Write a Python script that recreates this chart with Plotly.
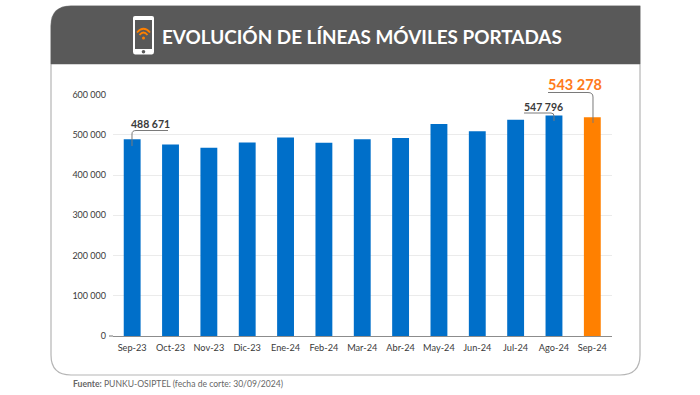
import plotly.graph_objects as go

categories = ["Sep-23","Oct-23","Nov-23","Dic-23","Ene-24","Feb-24","Mar-24","Abr-24","May-24","Jun-24","Jul-24","Ago-24","Sep-24"]
values = [488671,476000,468000,481000,493000,480000,489000,492000,527000,509000,537000,547796,543278]
tick_values = [0,100000,200000,300000,400000,500000,600000]
tick_labels = ["0","100 000","200 000","300 000","400 000","500 000","600 000"]
title = "EVOLUCIÓN DE LÍNEAS MÓVILES PORTADAS"

BLUE = "#006fc9"; ORANGE = "#ff8000"; GREY = "#595959"; TXT = "#3a3a3a"
W, H = 700, 395
px = lambda x: x / W
py = lambda y: 1 - y / H

def P(s):
    out = []
    for t in s:
        if isinstance(t, str):
            out.append(t)
        else:
            out.append(f"{px(t[0]):.5f},{py(t[1]):.5f}")
    return " ".join(out)

shapes = []
def add(tokens, **kw):
    shapes.append(dict(type="path", xref="paper", yref="paper", path=P(tokens), **kw))

# card and header band
add(["M",(51,26),"Q",(51,6),(71,6),"L",(640,6),"L",(640,355),"Q",(640,375),(620,375),"L",(71,375),"Q",(51,375),(51,355),"Z"],
    fillcolor="white", line=dict(color="#b5b5b5", width=1.2), layer="below")
add(["M",(51,26),"Q",(51,6),(71,6),"L",(640,6),"L",(640,64),"L",(51,64),"Z"],
    fillcolor=GREY, line=dict(color=GREY, width=0.5), layer="below")
# phone icon
add(["M",(135,16),"L",(152,16),"Q",(154,16),(154,18),"L",(154,52),"Q",(154,54.5),(152,54.5),"L",(135,54.5),"Q",(133,54.5),(133,52),"L",(133,18),"Q",(133,16),(135,16),"Z"],
    fillcolor="white", line=dict(width=0))
add(["M",(135,20),"L",(152,20),"L",(152,49),"L",(135,49),"Z"], fillcolor=GREY, line=dict(width=0))
shapes.append(dict(type="circle", xref="paper", yref="paper", x0=px(141.7), x1=px(145.3), y0=py(53.5), y1=py(50), fillcolor=GREY, line=dict(width=0)))
add(["M",(137,32.5),"Q",(143.5,25),(150,32.5)], line=dict(color=ORANGE, width=1.8))
add(["M",(139.5,35),"Q",(143.5,30),(147.5,35)], line=dict(color=ORANGE, width=1.8))
shapes.append(dict(type="circle", xref="paper", yref="paper", x0=px(142), x1=px(145), y0=py(39.5), y1=py(36.5), fillcolor=ORANGE, line=dict(width=0)))

# axis stub left of the plot area
add(["M",(109,336),"L",(113,336)], line=dict(color="#8c8c8c", width=1.2))

# callout connectors
CONN = dict(color="#7a7a7a", width=1)
add(["M",(132,146),"L",(132,134),"Q",(132,130.5),(136,130.5),"L",(168,130.5)], line=CONN)
add(["M",(554,121),"L",(554,116),"Q",(554,113),(551,113),"L",(524,113)], line=CONN)
add(["M",(593,123),"L",(593,97),"Q",(593,92.5),(588,92.5),"L",(548,92.5)], line=CONN)

A = dict(xref="paper", yref="paper", showarrow=False, xanchor="center", yanchor="middle")
annotations = [
    dict(text="<b>"+title+"</b>", x=px(362), y=py(36), font=dict(family="Lato", size=18.9, color="white"), **A),
    dict(text="<b>488 671</b>", x=px(150), y=py(124), font=dict(family="Lato", size=10.5, color=TXT), **A),
    dict(text="<b>547 796</b>", x=px(543), y=py(106.5), font=dict(family="Lato", size=10.5, color=TXT), **A),
    dict(text="<b>543 278</b>", x=px(575), y=py(84.5), font=dict(family="Lato", size=14.5, color="#ff7a1a"), **A),
    dict(text="<b>Fuente:</b> PUNKU-OSIPTEL (fecha de corte: 30/09/2024)", x=px(71), y=py(383.5),
         xref="paper", yref="paper", showarrow=False, xanchor="left", yanchor="middle",
         font=dict(family="Lato", size=8.6, color="#666666")),
]

fig = go.Figure(go.Bar(
    x=categories, y=values, width=0.44,
    marker=dict(color=[BLUE]*12 + [ORANGE], line=dict(width=0)),
    hoverinfo="skip",
))
fig.update_layout(
    width=W, height=H, margin=dict(l=0, r=0, t=0, b=0, pad=0, autoexpand=False), autosize=False,
    paper_bgcolor="white", plot_bgcolor="rgba(0,0,0,0)", showlegend=False,
    shapes=shapes, annotations=annotations,
    font=dict(family="Lato", color=TXT, size=10),
    xaxis=dict(domain=[px(113), px(611.5)], type="category", showgrid=False, showline=True, linecolor="#8c8c8c", linewidth=1.2,
               ticks="", ticklabelstandoff=3, tickfont=dict(size=9.2, family="Lato", color=TXT), fixedrange=True),
    yaxis=dict(domain=[py(336), py(94.5)], range=[0,600000], tickvals=tick_values, ticktext=tick_labels,
               gridcolor="#ebebeb", gridwidth=1.2, zeroline=False, showline=False, ticks="", ticklabelstandoff=6,
               tickfont=dict(size=9, family="Lato", color=TXT), fixedrange=True),
)
fig.write_html("out.html", config={"displayModeBar": False},
               post_script="document.body.style.margin='0';")
